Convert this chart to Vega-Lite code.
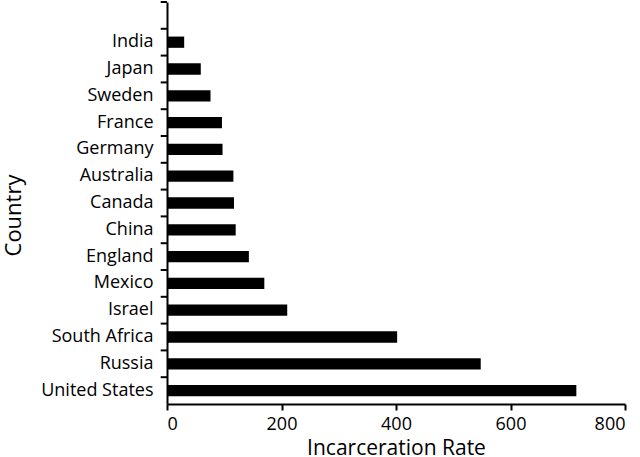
{
  "$schema": "https://vega.github.io/schema/vega-lite/v6.json",
  "width": 458,
  "height": 402,
  "autosize": "none",
  "padding": {"left": 167, "top": 2, "right": 15, "bottom": 53},
  "background": "white",
  "config": {"view": {"stroke": null}, "font": "Open Sans"},
  "layer": [
    {
      "data": {"values": [
        {"Country": "India", "Rate": 30},
        {"Country": "Japan", "Rate": 59},
        {"Country": "Sweden", "Rate": 76},
        {"Country": "France", "Rate": 96},
        {"Country": "Germany", "Rate": 97},
        {"Country": "Australia", "Rate": 116},
        {"Country": "Canada", "Rate": 117},
        {"Country": "China", "Rate": 120},
        {"Country": "England", "Rate": 143},
        {"Country": "Mexico", "Rate": 170},
        {"Country": "Israel", "Rate": 210},
        {"Country": "South Africa", "Rate": 402},
        {"Country": "Russia", "Rate": 548},
        {"Country": "United States", "Rate": 715}
      ]},
      "mark": {"type": "bar", "color": "black", "height": {"band": 0.42}},
      "encoding": {
        "y": {
          "field": "Country", "type": "nominal",
          "scale": {"domain": [" ", "India", "Japan", "Sweden", "France", "Germany", "Australia", "Canada", "China", "England", "Mexico", "Israel", "South Africa", "Russia", "United States"], "paddingInner": 0, "paddingOuter": 0},
          "axis": {
            "title": "Country", "titleFontSize": 22, "titleFontWeight": "normal", "titleColor": "black",
            "titleX": -147, "titleY": 213, "titleBaseline": "alphabetic",
            "labelFontSize": 18, "labelColor": "black", "labelPadding": 14,
            "domainColor": "black", "domainWidth": 2,
            "ticks": false
          }
        },
        "x": {
          "field": "Rate", "type": "quantitative",
          "scale": {"domain": [0, 800], "nice": false},
          "axis": {
            "title": "Incarceration Rate", "titleFontSize": 21, "titleFontWeight": "normal", "titleColor": "black",
            "titleY": 50, "titleBaseline": "alphabetic",
            "values": [0, 200, 400, 600, 800], "grid": false,
            "labelFontSize": 18, "labelColor": "black", "labelPadding": 5,
            "domainColor": "black", "domainWidth": 2, "tickColor": "black", "tickWidth": 2, "tickSize": 6
          }
        }
      }
    },
    {
      "data": {"values": [
        {"Country": " "}, {"Country": "India"}, {"Country": "Japan"}, {"Country": "Sweden"},
        {"Country": "France"}, {"Country": "Germany"}, {"Country": "Australia"}, {"Country": "Canada"},
        {"Country": "China"}, {"Country": "England"}, {"Country": "Mexico"}, {"Country": "Israel"},
        {"Country": "South Africa"}, {"Country": "Russia"}, {"Country": "United States"}
      ]},
      "mark": {"type": "rule", "color": "black", "strokeWidth": 2},
      "encoding": {
        "y": {
          "field": "Country", "type": "nominal", "bandPosition": 0,
          "scale": {"domain": [" ", "India", "Japan", "Sweden", "France", "Germany", "Australia", "Canada", "China", "England", "Mexico", "Israel", "South Africa", "Russia", "United States"], "paddingInner": 0, "paddingOuter": 0},
          "axis": {
            "title": "Country", "titleFontSize": 22, "titleFontWeight": "normal", "titleColor": "black",
            "titleX": -147, "titleY": 213, "titleBaseline": "alphabetic",
            "labelFontSize": 18, "labelColor": "black", "labelPadding": 14,
            "domainColor": "black", "domainWidth": 2,
            "ticks": false
          }
        },
        "x": {"datum": -11, "type": "quantitative"},
        "x2": {"datum": 0}
      }
    }
  ]
}
